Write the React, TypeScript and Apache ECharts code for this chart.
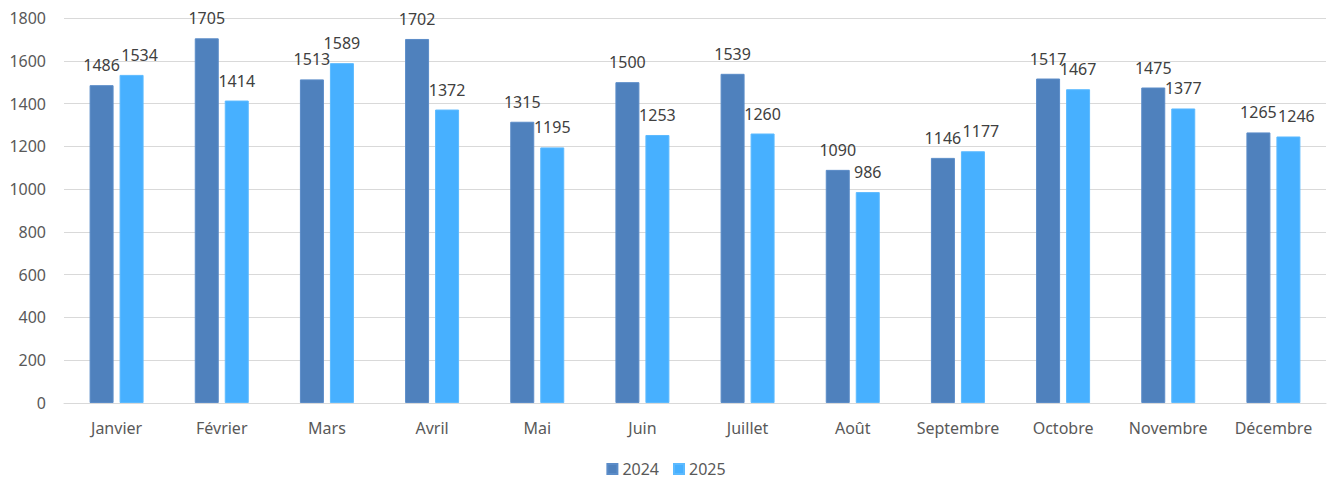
import React, { useEffect, useRef } from "react";
import * as echarts from "echarts";

const categories = ["Janvier", "Février", "Mars", "Avril", "Mai", "Juin", "Juillet", "Août", "Septembre", "Octobre", "Novembre", "Décembre"];
const values2024 = [1486, 1705, 1513, 1702, 1315, 1500, 1539, 1090, 1146, 1517, 1475, 1265];
const values2025 = [1534, 1414, 1589, 1372, 1195, 1253, 1260, 986, 1177, 1467, 1377, 1246];

const FONT = "'Noto Sans', 'Open Sans', sans-serif";

export default function App() {
  const ref = useRef<HTMLDivElement>(null);
  useEffect(() => {
    if (!ref.current) return;
    const chart = echarts.init(ref.current, undefined, { renderer: "svg" });
    const label = {
      show: true,
      position: "top",
      distance: 12,
      color: "#404040",
      fontSize: 16,
      fontFamily: FONT,
    };
    // nudge the 2025 label sideways when it would collide with the 2024 one (as the reference does)
    const data2025 = values2025.map((v, i) => {
      const d = v - values2024[i];
      if (d > -40 && d < 70) return { value: v, label: { offset: [8, 0] } };
      return v;
    });
    chart.setOption({
      animation: false,
      backgroundColor: "#ffffff",
      grid: { left: 64, right: 6, top: 18, bottom: 80, containLabel: false },
      legend: {
        bottom: 1,
        left: "center",
        itemWidth: 10,
        itemHeight: 10,
        itemGap: 14,
        icon: "rect",
        textStyle: { color: "#595959", fontSize: 16, fontFamily: FONT },
        data: ["2024", "2025"],
      },
      xAxis: {
        type: "category",
        data: categories,
        axisLine: { lineStyle: { color: "#d9d9d9" } },
        axisTick: { show: false },
        axisLabel: { color: "#595959", fontSize: 16, fontFamily: FONT, margin: 17, interval: 0 },
      },
      yAxis: {
        type: "value",
        min: 0,
        max: 1800,
        interval: 200,
        axisLine: { show: false },
        axisTick: { show: false },
        splitLine: { lineStyle: { color: "#d9d9d9" } },
        axisLabel: {
          color: "#595959",
          fontSize: 16,
          fontFamily: FONT,
          margin: 18,
          formatter: (v: number) => String(v),
        },
      },
      series: [
        {
          name: "2024",
          type: "bar",
          data: values2024,
          barWidth: 24,
          barGap: "25%",
          itemStyle: { color: "#4f81bd", borderColor: "#5b8cc8", borderWidth: 1 },
          label,
        },
        {
          name: "2025",
          type: "bar",
          data: data2025,
          barWidth: 24,
          itemStyle: { color: "#47b0ff", borderColor: "#5cbaff", borderWidth: 1 },
          label,
        },
      ],
    });
    return () => chart.dispose();
  }, []);
  return <div ref={ref} style={{ position: "fixed", left: 0, top: 0, width: 1332, height: 483 }} />;
}
